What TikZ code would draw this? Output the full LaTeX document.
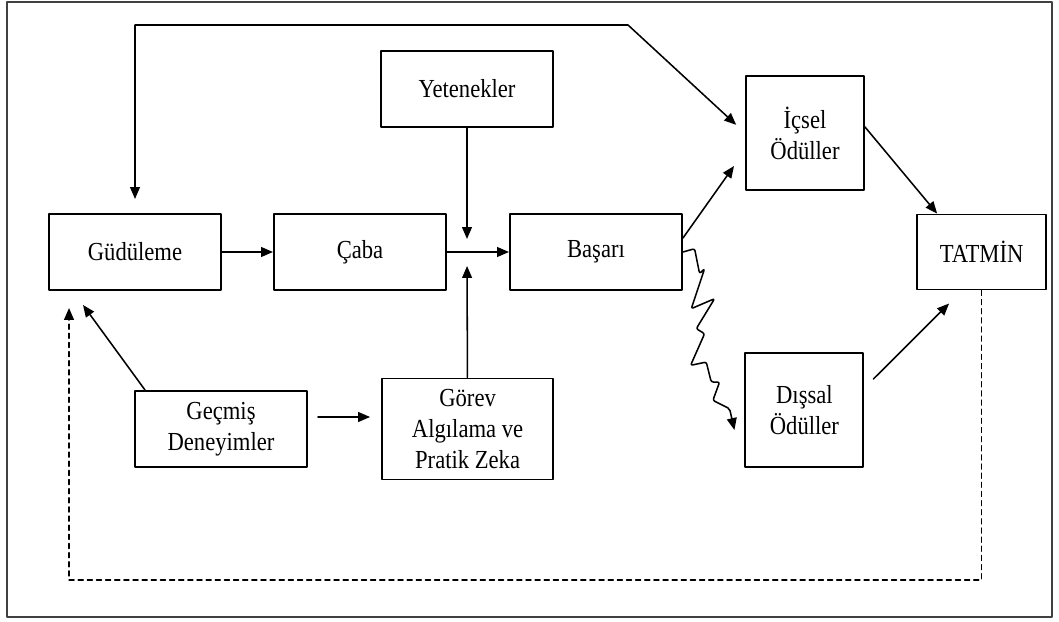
\documentclass[tikz,border=0pt]{standalone}
\usepackage{fontspec}
\setmainfont{Liberation Serif}[FakeStretch=0.87]
\usetikzlibrary{arrows.meta,positioning}
\tikzset{
  blocknode/.style={rectangle,draw,line width=1.4pt,minimum width=4.3cm,minimum height=1.9cm,inner sep=0pt,align=center},
  rewardnode/.style={rectangle,draw,line width=1.4pt,minimum width=2.95cm,minimum height=2.85cm,inner sep=0pt,align=center},
  link/.style={->,line width=1.1pt},
  every picture/.style={line cap=round,line join=round,>={Triangle[length=8.5pt,width=7pt]}}
}

\begin{document}
\begin{tikzpicture}[font=\fontsize{18.5}{22}\selectfont]
  \useasboundingbox (0,0) rectangle (26.475,15.525);
  \draw[line width=1.8pt,black!75] (0.175,0.1) rectangle (26.3,15.475);

  \node[blocknode] (gud) at (3.375,9.225) {Güdüleme};
  \node[blocknode] (caba) at (9.0,9.225) {Çaba};
  \node[blocknode] (basari) at (14.9,9.225) {Başarı};
  \node[blocknode] (yet) at (11.675,13.3) {Yetenekler};
  \node[blocknode,minimum width=4.3cm] (gecmis) at (5.525,4.8) {Geçmiş\\Deneyimler};
  \node[blocknode,minimum width=4.275cm,minimum height=2.525cm] (gorev) at (11.69,4.8) {Görev\\Algılama ve\\Pratik Zeka};
  \node[rewardnode] (icsel) at (20.125,12.2) {İçsel\\Ödüller};
  \node[rewardnode] (dissal) at (20.11,5.275) {Dışsal\\Ödüller};
  \node[blocknode,minimum width=3.225cm,minimum height=1.875cm] (tatmin) at (24.54,9.225) {TATMİN};

  \coordinate (join) at (11.675,9.225);
  \coordinate (kink) at (15.7,14.9);
  \coordinate (fb) at (0,1.025);

  \draw[link] (gud) -- (caba);
  \draw[link] (caba) -- (basari);
  \draw[link,shorten >=0.325cm] (yet) -- (join);
  \draw[link,shorten >=0.35cm] (gorev) -- (join);
  \draw[link] ([xshift=0.275cm]gecmis.north west) -- ([xshift=-1.3cm,yshift=-0.35cm]gud.south);
  \draw[link,shorten <=0.25cm,shorten >=0.275cm] ([yshift=0.3cm]gecmis.east) -- ([yshift=0.3cm]gorev.west);
  \draw[link,<->,shorten >=0.3cm] ([yshift=0.35cm]gud.north) |- (kink) -- (icsel.west);
  \draw[link] ([yshift=0.35cm]basari.east) -- ([xshift=-0.275cm,yshift=-0.825cm]icsel.west);
  \draw[link] ([yshift=0.15cm]icsel.east) -- ([xshift=0.525cm]tatmin.north west);
  \draw[link] ([xshift=0.225cm,yshift=0.775cm]dissal.east) -- ([xshift=-0.8125cm,yshift=-0.325cm]tatmin.south);
  % wiggly line to the external rewards
  \draw[link,rounded corners=1.5pt] (basari.east) -- ++(0.29,0.083) -- ++(0.125,-0.625)
    -- ++(0.125,0.125) -- ++(-0.333,-1.0) -- ++(0.583,0.25) -- ++(-0.458,-0.75)
    -- ++(0.208,-0.125) -- ++(-0.35,-0.792) -- ++(0.392,0.083) -- ++(0.125,-0.5)
    -- ++(0.208,0) -- ++(-0.167,-0.458) -- ++(0.417,-0.208)
    -- ([xshift=-0.25cm,yshift=-0.5cm]dissal.west);
  % feedback from satisfaction
  \draw[link,dash pattern=on 3.5pt off 3pt] (tatmin.south) -- (tatmin.south |- fb)
    -| ([xshift=0.525cm,yshift=-0.425cm]gud.south west);
\end{tikzpicture}
\end{document}
